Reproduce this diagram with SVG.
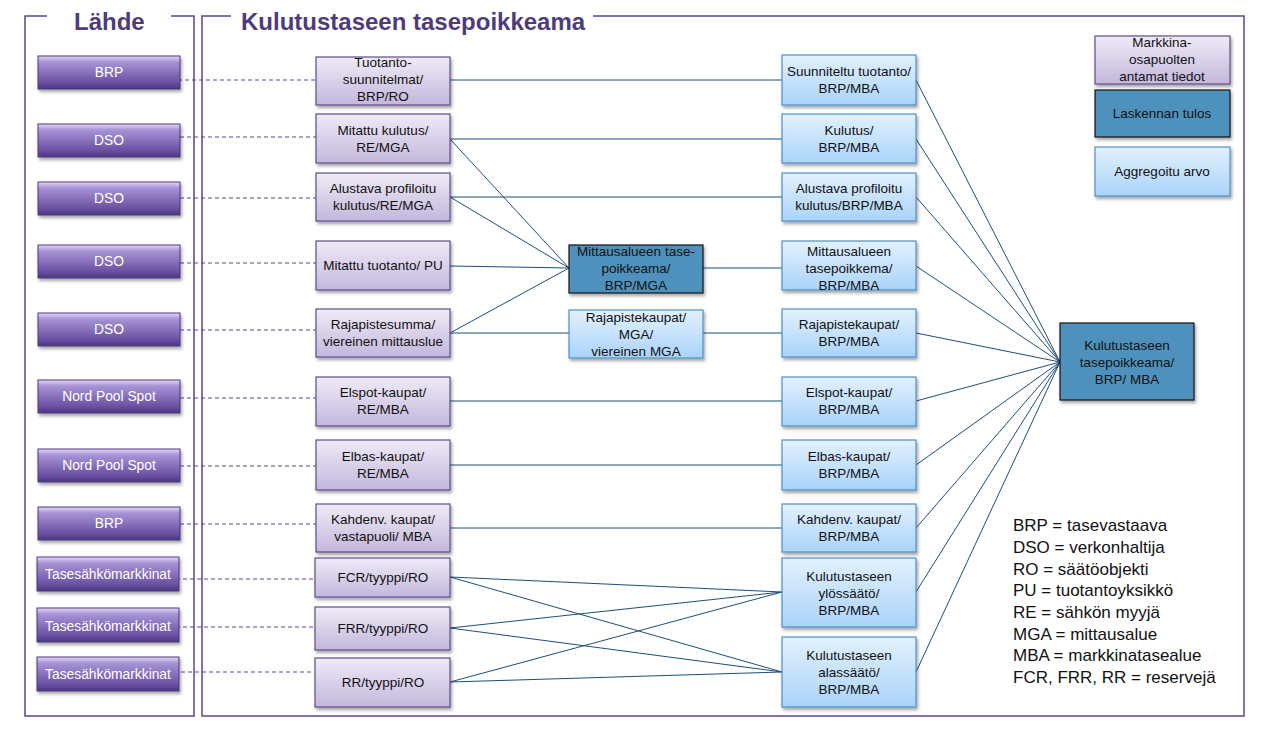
<svg xmlns="http://www.w3.org/2000/svg" width="1263" height="730" viewBox="0 0 1263 730">
<defs>
<linearGradient id="gBtn" x1="0" y1="0" x2="0" y2="1">
<stop offset="0" stop-color="#e2d8f5"/>
<stop offset="0.18" stop-color="#a893d6"/>
<stop offset="0.8" stop-color="#6a51a2"/>
<stop offset="1" stop-color="#4b3780"/>
</linearGradient>
<linearGradient id="gPur" x1="0" y1="0" x2="0" y2="1">
<stop offset="0" stop-color="#efebf7"/>
<stop offset="1" stop-color="#c3b7dc"/>
</linearGradient>
<linearGradient id="gBlue" x1="0" y1="0" x2="0" y2="1">
<stop offset="0" stop-color="#e3f1fe"/>
<stop offset="1" stop-color="#a9d3f9"/>
</linearGradient>
<filter id="sh" x="-10%" y="-10%" width="130%" height="140%">
<feDropShadow dx="1.5" dy="2.5" stdDeviation="1.5" flood-color="#000" flood-opacity="0.35"/>
</filter>
</defs>
<style>
text{font-family:"Liberation Sans",Arial,sans-serif;font-size:13.5px;fill:#111;text-anchor:middle}
.title{font-size:24px;font-weight:bold;fill:#4f3b7c;text-anchor:start}
.frame{fill:none;stroke:#5b4490;stroke-width:1.5}
.btn rect{fill:url(#gBtn);stroke:#4b3780;stroke-width:1;filter:url(#sh)}
.btn text{fill:#fff;font-size:13.8px}
.pur rect{fill:url(#gPur);stroke:#5f4b8b;stroke-width:1.2;filter:url(#sh)}
.blu rect{fill:url(#gBlue);stroke:#4f8fc9;stroke-width:1.2;filter:url(#sh)}
.drk rect{fill:#4f91bd;stroke:#111;stroke-width:1.2;filter:url(#sh)}
.dash line{stroke:#5b4490;stroke-width:1.2;stroke-dasharray:4 3}
.con line{stroke:#1f4e79;stroke-width:1}
.leg{font-size:17px;text-anchor:start}
</style>

<g id="frames">
<path class="frame" d="M47,16 H25 V716 H194 V16 H171"/>
<path class="frame" d="M231,16 H202 V716 H1244 V16 H593"/>
<text class="title" x="74" y="30">Lähde</text>
<text class="title" x="241" y="30">Kulutustaseen tasepoikkeama</text>
</g>

<g id="connectors">
<g class="dash">
<line x1="178" y1="80" x2="316" y2="80"/>
<line x1="180" y1="137" x2="316" y2="137"/>
<line x1="180" y1="198" x2="316" y2="198"/>
<line x1="180" y1="263" x2="316" y2="263"/>
<line x1="180" y1="330" x2="316" y2="330"/>
<line x1="180" y1="398" x2="316" y2="398"/>
<line x1="180" y1="466" x2="316" y2="466"/>
<line x1="180" y1="524" x2="316" y2="524"/>
<line x1="176" y1="579" x2="316" y2="579"/>
<line x1="176" y1="627" x2="316" y2="627"/>
<line x1="174" y1="672" x2="314" y2="672"/>
</g>
<g class="con">
<line x1="450" y1="80" x2="782" y2="80"/>
<line x1="450" y1="139" x2="782" y2="139"/>
<line x1="450" y1="197" x2="782" y2="197"/>
<line x1="450" y1="266" x2="569" y2="268"/>
<line x1="450" y1="139" x2="569" y2="268"/>
<line x1="450" y1="197" x2="569" y2="268"/>
<line x1="450" y1="333" x2="569" y2="268"/>
<line x1="703" y1="268" x2="782" y2="268"/>
<line x1="450" y1="333" x2="569" y2="333"/>
<line x1="703" y1="333" x2="782" y2="333"/>
<line x1="450" y1="401" x2="782" y2="401"/>
<line x1="450" y1="465" x2="782" y2="465"/>
<line x1="450" y1="528" x2="782" y2="528"/>
<line x1="450" y1="577" x2="782" y2="592"/>
<line x1="450" y1="577" x2="782" y2="672"/>
<line x1="450" y1="628" x2="782" y2="592"/>
<line x1="450" y1="628" x2="782" y2="672"/>
<line x1="450" y1="682" x2="782" y2="592"/>
<line x1="450" y1="682" x2="782" y2="672"/>
<line x1="916" y1="80" x2="1060" y2="362"/>
<line x1="916" y1="139" x2="1060" y2="362"/>
<line x1="916" y1="197" x2="1060" y2="362"/>
<line x1="916" y1="266" x2="1060" y2="362"/>
<line x1="916" y1="333" x2="1060" y2="362"/>
<line x1="916" y1="401" x2="1060" y2="362"/>
<line x1="916" y1="465" x2="1060" y2="362"/>
<line x1="916" y1="528" x2="1060" y2="362"/>
<line x1="916" y1="592" x2="1060" y2="362"/>
<line x1="916" y1="672" x2="1060" y2="362"/>
</g>
</g>

<g id="src-brp1" class="btn"><rect x="38" y="56" width="142" height="33"/><text x="109" y="77">BRP</text></g>
<g id="src-dso1" class="btn"><rect x="38" y="124" width="142" height="33"/><text x="109" y="145">DSO</text></g>
<g id="src-dso2" class="btn"><rect x="38" y="182" width="142" height="33"/><text x="109" y="203">DSO</text></g>
<g id="src-dso3" class="btn"><rect x="38" y="245" width="142" height="33"/><text x="109" y="266">DSO</text></g>
<g id="src-dso4" class="btn"><rect x="38" y="313" width="142" height="33"/><text x="109" y="334">DSO</text></g>
<g id="src-nps1" class="btn"><rect x="38" y="380" width="142" height="33"/><text x="109" y="401">Nord Pool Spot</text></g>
<g id="src-nps2" class="btn"><rect x="38" y="449" width="142" height="33"/><text x="109" y="470">Nord Pool Spot</text></g>
<g id="src-brp2" class="btn"><rect x="38" y="507" width="142" height="33"/><text x="109" y="528">BRP</text></g>
<g id="src-tsm1" class="btn"><rect x="37" y="557" width="142" height="34"/><text x="108" y="579">Tasesähkömarkkinat</text></g>
<g id="src-tsm2" class="btn"><rect x="37" y="608" width="142" height="34"/><text x="108" y="631">Tasesähkömarkkinat</text></g>
<g id="src-tsm3" class="btn"><rect x="37" y="657" width="142" height="34"/><text x="108" y="679">Tasesähkömarkkinat</text></g>

<g id="p1" class="pur"><rect x="316" y="57" width="134" height="48"/><text x="383" y="67">Tuotanto-</text><text x="383" y="84">suunnitelmat/</text><text x="383" y="101">BRP/RO</text></g>
<g id="p2" class="pur"><rect x="316" y="114" width="134" height="49"/><text x="383" y="135">Mitattu kulutus/</text><text x="383" y="152">RE/MGA</text></g>
<g id="p3" class="pur"><rect x="316" y="173" width="134" height="48"/><text x="383" y="193">Alustava profiloitu</text><text x="383" y="210">kulutus/RE/MGA</text></g>
<g id="p4" class="pur"><rect x="316" y="241" width="134" height="49"/><text x="383" y="270">Mitattu tuotanto/ PU</text></g>
<g id="p5" class="pur"><rect x="316" y="309" width="134" height="48"/><text x="383" y="329">Rajapistesumma/</text><text x="383" y="346">viereinen mittauslue</text></g>
<g id="p6" class="pur"><rect x="316" y="377" width="134" height="49"/><text x="383" y="397">Elspot-kaupat/</text><text x="383" y="414">RE/MBA</text></g>
<g id="p7" class="pur"><rect x="316" y="440" width="134" height="50"/><text x="383" y="461">Elbas-kaupat/</text><text x="383" y="478">RE/MBA</text></g>
<g id="p8" class="pur"><rect x="316" y="504" width="134" height="48"/><text x="383" y="524">Kahdenv. kaupat/</text><text x="383" y="541">vastapuoli/ MBA</text></g>
<g id="p9" class="pur"><rect x="315" y="558" width="135" height="39"/><text x="383" y="582">FCR/tyyppi/RO</text></g>
<g id="p10" class="pur"><rect x="315" y="607" width="135" height="43"/><text x="383" y="633">FRR/tyyppi/RO</text></g>
<g id="p11" class="pur"><rect x="315" y="658" width="135" height="49"/><text x="383" y="687">RR/tyyppi/RO</text></g>

<g id="m1" class="drk"><rect x="569" y="245" width="134" height="48"/><text x="636" y="256">Mittausalueen tase-</text><text x="636" y="273">poikkeama/</text><text x="636" y="290">BRP/MGA</text></g>
<g id="m2" class="blu"><rect x="569" y="310" width="134" height="48"/><text x="636" y="322">Rajapistekaupat/</text><text x="636" y="339">MGA/</text><text x="636" y="356">viereinen MGA</text></g>

<g id="b1" class="blu"><rect x="782" y="55" width="134" height="50"/><text x="849" y="76">Suunniteltu tuotanto/</text><text x="849" y="93">BRP/MBA</text></g>
<g id="b2" class="blu"><rect x="782" y="114" width="134" height="49"/><text x="849" y="135">Kulutus/</text><text x="849" y="152">BRP/MBA</text></g>
<g id="b3" class="blu"><rect x="782" y="173" width="134" height="48"/><text x="849" y="193">Alustava profiloitu</text><text x="849" y="210">kulutus/BRP/MBA</text></g>
<g id="b4" class="blu"><rect x="782" y="241" width="134" height="49"/><text x="849" y="256">Mittausalueen</text><text x="849" y="273">tasepoikkema/</text><text x="849" y="290">BRP/MBA</text></g>
<g id="b5" class="blu"><rect x="782" y="309" width="134" height="48"/><text x="849" y="329">Rajapistekaupat/</text><text x="849" y="346">BRP/MBA</text></g>
<g id="b6" class="blu"><rect x="782" y="377" width="134" height="49"/><text x="849" y="397">Elspot-kaupat/</text><text x="849" y="414">BRP/MBA</text></g>
<g id="b7" class="blu"><rect x="782" y="440" width="134" height="50"/><text x="849" y="461">Elbas-kaupat/</text><text x="849" y="478">BRP/MBA</text></g>
<g id="b8" class="blu"><rect x="782" y="504" width="134" height="48"/><text x="849" y="524">Kahdenv. kaupat/</text><text x="849" y="541">BRP/MBA</text></g>
<g id="b9" class="blu"><rect x="782" y="558" width="134" height="69"/><text x="849" y="581">Kulutustaseen</text><text x="849" y="598">ylössäätö/</text><text x="849" y="615">BRP/MBA</text></g>
<g id="b10" class="blu"><rect x="782" y="637" width="134" height="70"/><text x="849" y="660">Kulutustaseen</text><text x="849" y="677">alassäätö/</text><text x="849" y="694">BRP/MBA</text></g>

<g id="result" class="drk"><rect x="1060" y="323" width="134" height="77"/><text x="1127" y="350">Kulutustaseen</text><text x="1127" y="367">tasepoikkeama/</text><text x="1127" y="384">BRP/ MBA</text></g>

<g id="leg1" class="pur"><rect x="1095" y="36" width="135" height="48"/><text x="1162" y="47">Markkina-</text><text x="1162" y="64">osapuolten</text><text x="1162" y="81">antamat tiedot</text></g>
<g id="leg2" class="drk"><rect x="1095" y="90" width="135" height="47"/><text x="1162" y="118">Laskennan tulos</text></g>
<g id="leg3" class="blu"><rect x="1095" y="147" width="135" height="49"/><text x="1162" y="176">Aggregoitu arvo</text></g>

<g id="abbrev">
<text class="leg" x="1013" y="531">BRP = tasevastaava</text>
<text class="leg" x="1013" y="553">DSO = verkonhaltija</text>
<text class="leg" x="1013" y="575">RO = säätöobjekti</text>
<text class="leg" x="1013" y="596">PU = tuotantoyksikkö</text>
<text class="leg" x="1013" y="618">RE = sähkön myyjä</text>
<text class="leg" x="1013" y="640">MGA = mittausalue</text>
<text class="leg" x="1013" y="661">MBA = markkinatasealue</text>
<text class="leg" x="1013" y="683">FCR, FRR, RR = reservejä</text>
</g>
</svg>
